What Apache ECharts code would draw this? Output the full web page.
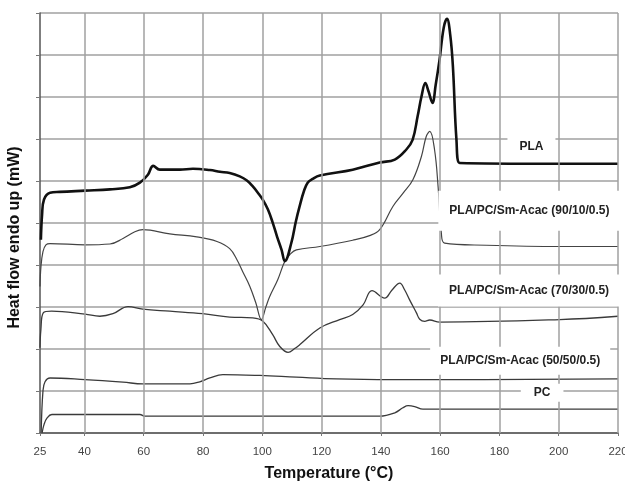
<!DOCTYPE html>
<html>
<head>
<meta charset="utf-8">
<script src="https://cdn.jsdelivr.net/npm/echarts@6/dist/echarts.min.js"></script>
<style>
html,body{margin:0;padding:0;background:#fff;}
#chart{width:625px;height:484px;}
</style>
</head>
<body>
<div id="chart"></div>
<script>
// ---- data ----
const tickLabels = [25, 40, 60, 80, 100, 120, 140, 160, 180, 200, 220];
const gridTemps = [40, 60, 80, 100, 120, 140, 160, 180, 200, 220];

const plaT = [25.3, 25.7, 26.35, 28.4, 31.7, 40.2, 48.6, 55.3, 58.7, 61.4, 63.2, 65.4, 72.2, 76.6, 82.3, 85.7, 89.0, 92.4, 94.8, 96.8, 98.5, 100.2, 101.9, 103.5, 105.0, 106.5, 107.6, 109.8, 111.3, 112.6, 114.0, 115.3, 117.0, 119.4, 130.5, 139.6, 144.7, 148.6, 150.7, 152.4, 153.7, 155.0, 156.1, 157.4, 158.5, 159.8, 161.2, 162.3, 163.4, 164.3, 165.5, 166.6, 220];
const plaV = [4.60, 5.20, 5.56, 5.72, 5.74, 5.77, 5.80, 5.85, 5.96, 6.15, 6.36, 6.27, 6.27, 6.29, 6.26, 6.22, 6.19, 6.11, 6.01, 5.87, 5.72, 5.55, 5.32, 5.01, 4.67, 4.36, 4.09, 4.53, 5.03, 5.40, 5.75, 5.96, 6.05, 6.13, 6.27, 6.44, 6.51, 6.75, 6.98, 7.54, 8.01, 8.33, 8.13, 7.86, 8.29, 8.89, 9.65, 9.86, 9.48, 8.73, 6.98, 6.43, 6.41];

const b9010T = [25.0, 25.3, 26.0, 27.0, 28.4, 40.2, 48.6, 53.0, 57.0, 59.7, 68.8, 77.9, 84.7, 89.0, 91.4, 93.4, 95.8, 97.8, 99.7, 101.2, 102.5, 105.2, 107.6, 109.3, 111.5, 119.4, 130.5, 136.2, 139.6, 144.1, 147.5, 150.8, 153.7, 155.3, 156.5, 158.1, 159.3, 160.4, 161.5, 175.6, 200.3, 220];
const b9010V = [3.49, 3.94, 4.32, 4.48, 4.51, 4.48, 4.50, 4.63, 4.79, 4.84, 4.74, 4.67, 4.56, 4.39, 4.13, 3.84, 3.49, 3.10, 2.70, 3.00, 3.25, 3.65, 4.09, 4.25, 4.36, 4.44, 4.59, 4.70, 4.84, 5.40, 5.71, 6.03, 6.59, 7.06, 7.18, 6.75, 5.87, 4.76, 4.52, 4.47, 4.44, 4.44];

const b7030T = [25.0, 25.3, 26.1, 28.9, 40.2, 45.2, 49.6, 54.7, 59.7, 68.8, 79.9, 89.0, 96.8, 100.2, 103.5, 105.9, 108.7, 110.9, 112.6, 119.4, 126.1, 130.5, 134.0, 137.0, 141.3, 143.7, 146.4, 148.0, 149.7, 152.0, 153.1, 154.8, 156.5, 159.8, 200.3, 220];
const b7030V = [2.03, 2.46, 2.86, 2.90, 2.83, 2.78, 2.84, 3.01, 2.95, 2.90, 2.84, 2.76, 2.74, 2.66, 2.34, 2.06, 1.92, 2.01, 2.10, 2.50, 2.70, 2.82, 3.05, 3.39, 3.21, 3.40, 3.57, 3.41, 3.17, 2.86, 2.71, 2.66, 2.69, 2.64, 2.70, 2.78];

const b5050T = [25.4, 26.0, 26.7, 28.4, 40.2, 53.0, 59.7, 75.6, 78.9, 82.3, 86.7, 99.2, 111.5, 125.0, 153.1, 220];
const b5050V = [0.02, 1.00, 1.22, 1.31, 1.27, 1.21, 1.17, 1.17, 1.22, 1.31, 1.39, 1.37, 1.33, 1.29, 1.27, 1.29];

const pcT = [25.7, 26.35, 27.4, 29.0, 58.7, 60.4, 139.6, 144.7, 147.4, 149.2, 151.4, 154.2, 220];
const pcV = [0.00, 0.20, 0.36, 0.44, 0.44, 0.40, 0.40, 0.48, 0.60, 0.65, 0.63, 0.57, 0.57];

const seriesNames = ['PLA', 'PLA/PC/Sm-Acac (90/10/0.5)', 'PLA/PC/Sm-Acac (70/30/0.5)', 'PLA/PC/Sm-Acac (50/50/0.5)', 'PC'];

// ---- build chart ----
const zip = (t, v) => t.map((x, i) => [x, v[i]]);
const FONT = "'Liberation Sans', Arial, sans-serif";
const NARROW = "'Liberation Sans Narrow', 'Arial Narrow', 'Liberation Sans', Arial, sans-serif";

function curve(name, t, v, width, color) {
  return {
    name: name, type: 'line', data: zip(t, v), showSymbol: false, symbol: 'none',
    smooth: 0.4, z: 3,
    lineStyle: { color: color, width: width }, silent: true, animation: false
  };
}

const labelAnchors = [
  { txt: seriesNames[0], at: [190.8, 6.82], pad: [4, 12, 4, 12] },
  { txt: seriesNames[1], at: [190.1, 5.29], pad: [14, 11, 14, 11] },
  { txt: seriesNames[2], at: [190.0, 3.39], pad: [10, 11, 10, 11] },
  { txt: seriesNames[3], at: [187.0, 1.72], pad: [8, 10, 8, 10] },
  { txt: seriesNames[4], at: [194.4, 0.96], pad: [3, 13, 3, 13] }
];

const option = {
  animation: false,
  backgroundColor: '#fff',
  grid: { left: 40, right: 7, top: 13, bottom: 51, containLabel: false, outerBoundsMode: 'none' },
  xAxis: {
    type: 'value', min: 25, max: 220, interval: 5,
    name: 'Temperature (°C)', nameLocation: 'middle', nameGap: 33,
    nameTextStyle: { fontFamily: FONT, fontSize: 16, fontWeight: 'bold', color: '#111' },
    axisLine: { lineStyle: { color: '#555', width: 1.5 } },
    axisTick: { show: true, length: 3, customValues: tickLabels, lineStyle: { color: '#777' } },
    axisLabel: {
      customValues: tickLabels, margin: 13, fontFamily: NARROW, fontSize: 11.5, color: '#444',
      formatter: v => (tickLabels.indexOf(v) >= 0 ? String(v) : '')
    },
    splitLine: { show: false }
  },
  yAxis: {
    type: 'value', min: 0, max: 10, interval: 1,
    axisLine: { show: true, lineStyle: { color: '#555', width: 1.5 } },
    axisTick: { show: true, length: 4, lineStyle: { color: '#777' } },
    axisLabel: { show: false },
    splitLine: { show: true, lineStyle: { color: '#a0a0a0', width: 1.5 } }
  },
  graphic: [{
    type: 'text', x: 15, y: 237.5, rotation: Math.PI / 2,
    style: { text: 'Heat flow endo up (mW)', fontFamily: FONT, fontSize: 16, fontWeight: 'bold',
             fill: '#111', align: 'center', verticalAlign: 'middle' }
  }],
  series: [
    {
      type: 'line', data: [], z: 1, silent: true, symbol: 'none',
      markLine: {
        silent: true, symbol: 'none', animation: false, label: { show: false },
        lineStyle: { color: '#a0a0a0', width: 1.5, type: 'solid' },
        data: gridTemps.map(t => ({ xAxis: t }))
      }
    },
    curve(seriesNames[4], pcT, pcV, 1.3, '#3a3a3a'),
    curve(seriesNames[3], b5050T, b5050V, 1.3, '#3a3a3a'),
    curve(seriesNames[2], b7030T, b7030V, 1.3, '#3a3a3a'),
    curve(seriesNames[1], b9010T, b9010V, 1.2, '#444'),
    curve(seriesNames[0], plaT, plaV, 2.6, '#111'),
    {
      type: 'scatter', z: 5, silent: true, symbolSize: 1,
      itemStyle: { color: '#fff', opacity: 1 },
      data: labelAnchors.map(a => ({
        value: a.at,
        label: {
          show: true, position: 'inside', formatter: a.txt,
          backgroundColor: '#fff', padding: a.pad, opacity: 1,
          fontFamily: FONT, fontSize: 12, fontWeight: 'bold', color: '#222'
        }
      }))
    }
  ]
};

const chart = echarts.init(document.getElementById('chart'), null, { renderer: 'canvas' });
chart.setOption(option);
</script>
</body>
</html>
